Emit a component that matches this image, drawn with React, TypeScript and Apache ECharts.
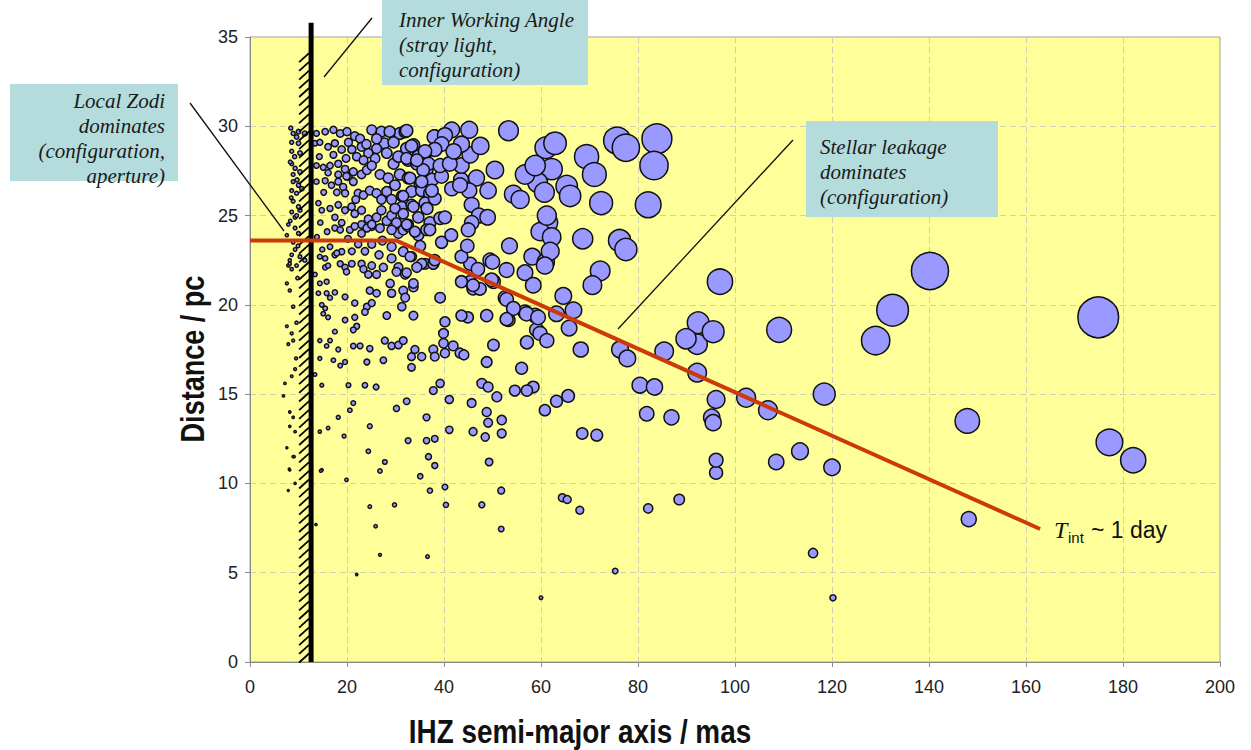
import React, { useEffect, useRef } from "react";
import * as echarts from "echarts";

// ---- data: [IHZ semi-major axis (mas), distance (pc)] ----
const outerStars: number[][] = [
  [174.9, 19.3], [140.2, 21.9], [132.5, 19.7], [129.0, 18.0], [182.1, 11.3], [177.2, 12.3],
  [147.9, 13.5], [148.2, 8.0], [118.4, 15.0], [120.0, 10.9], [113.4, 11.8], [108.5, 11.2],
  [109.1, 18.6], [96.9, 21.3], [116.1, 6.1], [120.2, 3.6], [106.8, 14.1], [102.3, 14.8],
  [96.1, 14.7], [95.2, 13.7], [95.5, 13.4], [96.1, 10.6], [96.1, 11.3], [92.2, 16.2],
  [92.4, 19.0], [92.2, 17.8], [89.9, 18.1], [95.5, 18.5], [85.4, 17.4], [80.4, 15.5],
  [83.4, 15.4], [81.8, 13.9], [86.9, 13.7], [76.3, 17.5], [77.8, 17.0], [68.2, 17.5],
  [64.6, 20.5], [66.7, 19.7], [65.8, 18.7], [61.2, 18.0], [63.2, 19.5], [72.2, 21.9],
  [70.6, 21.1], [60.8, 22.2], [65.6, 14.9], [63.2, 14.6], [60.8, 14.1], [68.5, 12.8],
  [71.5, 12.7], [64.4, 9.2], [65.4, 9.1], [68.0, 8.5], [82.1, 8.6], [88.5, 9.1],
  [75.3, 5.1], [60.0, 3.6],
];

const topRight: number[][] = [
  [53.3, 29.75], [61.0, 28.8], [62.9, 29.05], [69.4, 28.3], [71.0, 27.3], [75.7, 29.2],
  [77.5, 28.8], [83.9, 29.3], [83.3, 27.8], [82.1, 25.6], [72.4, 25.7], [68.6, 23.7],
  [65.3, 26.65], [66.0, 26.1], [62.2, 27.6], [59.3, 26.85], [56.7, 27.3], [58.8, 27.8],
  [54.3, 26.2], [55.7, 25.9], [60.7, 26.3], [61.5, 24.6], [59.8, 24.1], [62.2, 23.8],
  [61.2, 25.0], [53.5, 23.3], [58.2, 22.7], [61.0, 22.4], [56.7, 21.8], [58.4, 21.1],
  [76.2, 23.6], [77.5, 23.1], [52.9, 20.3], [54.3, 19.8], [52.9, 19.2], [57.0, 19.5],
  [59.4, 19.3], [59.8, 18.4], [57.1, 17.9], [61.9, 23.0],
];

const midCluster: number[][] = [
  [32.3, 29.75], [41.6, 29.8], [45.2, 29.8], [50.5, 27.55], [49.1, 26.4], [46.7, 27.1],
  [45.2, 26.4], [43.5, 27.0], [43.6, 27.8], [45.4, 28.4], [43.6, 29.0], [38.0, 29.4],
  [40.2, 29.5], [39.5, 29.0], [38.1, 28.7], [39.2, 27.8], [41.2, 27.9], [36.1, 28.6],
  [35.7, 27.55], [33.3, 28.9], [32.3, 28.2], [34.4, 28.1], [35.4, 26.9], [37.5, 26.4],
  [33.0, 27.1], [41.6, 26.5], [43.3, 26.7], [45.7, 25.6], [47.2, 25.0], [49.0, 24.9],
  [45.7, 24.6], [45.0, 24.2], [40.2, 24.9], [33.7, 25.5], [31.6, 26.1], [31.6, 25.1],
  [32.3, 24.5], [34.0, 24.1], [37.1, 24.2], [39.5, 23.5], [50.0, 22.4], [43.6, 22.7],
  [38.1, 22.5], [35.1, 23.3], [35.4, 22.3], [33.0, 22.7], [32.3, 21.8], [34.4, 22.1],
  [33.7, 21.2], [43.6, 21.3], [46.0, 21.1], [49.8, 21.4], [42.0, 28.6], [47.5, 28.9],
  [44.8, 23.3], [47.0, 22.0], [41.5, 23.9], [36.5, 25.4], [28.8, 29.7], [29.6, 29.1],
];

const innerCluster: number[][] = [
  [8.9, 29.6], [10.0, 29.7], [9.6, 29.4], [11.3, 29.6], [13.7, 29.6], [15.5, 29.7],
  [17.2, 29.8], [18.6, 29.6], [20.0, 29.7], [21.6, 29.45], [22.7, 29.3], [25.1, 29.8],
  [27.1, 29.7], [27.7, 29.05], [26.1, 29.3], [30.9, 29.6], [32.0, 29.7], [33.7, 28.95],
  [36.1, 28.5], [38.1, 29.4], [38.5, 28.85], [36.4, 27.55],
  [8.6, 29.1], [10.0, 29.05], [8.6, 28.6], [10.3, 28.5], [13.4, 29.05], [14.4, 29.1],
  [16.1, 28.85], [17.5, 29.05], [18.9, 28.7], [17.2, 28.4], [20.3, 29.1], [21.0, 28.7],
  [22.0, 28.3], [23.0, 28.85], [24.4, 28.5], [26.1, 28.75], [25.8, 28.2], [23.4, 28.1],
  [28.2, 28.5], [29.6, 27.9], [30.6, 28.3], [32.3, 28.75], [32.6, 28.1], [34.7, 28.3],
  [34.4, 27.9], [36.8, 27.9],
  [8.6, 27.9], [9.3, 27.65], [10.3, 27.45], [8.9, 27.3], [13.7, 27.8], [15.1, 27.7],
  [16.5, 27.8], [18.2, 27.9], [19.6, 27.6], [16.1, 27.4], [18.2, 27.3], [20.3, 27.2],
  [21.3, 27.45], [23.0, 27.3], [24.1, 27.55], [25.1, 27.8], [26.8, 27.3], [28.5, 27.1],
  [30.9, 27.3], [32.6, 27.1], [29.9, 26.7], [35.1, 26.8], [37.5, 27.0], [39.5, 27.2],
  [8.9, 26.9], [10.0, 26.7], [8.6, 26.4], [9.6, 26.25], [10.7, 26.5], [13.7, 26.9],
  [15.5, 26.95], [16.8, 26.7], [18.2, 26.9], [19.2, 26.6], [19.9, 27.2], [21.3, 26.9],
  [17.9, 26.3], [19.6, 26.25], [22.3, 26.25], [23.4, 26.15], [24.7, 26.4], [26.1, 26.25],
  [27.1, 25.9], [28.2, 26.35], [29.2, 25.9], [31.3, 26.1], [33.3, 26.35], [35.4, 26.4],
  [37.1, 26.25], [31.3, 25.5], [33.3, 25.6], [36.1, 25.7], [38.1, 25.95],
  [8.9, 25.8], [10.0, 25.5], [8.6, 25.2], [10.3, 25.3], [9.3, 24.9], [14.1, 25.7],
  [14.8, 25.3], [16.5, 25.4], [18.2, 25.6], [19.6, 25.3], [17.5, 24.9], [18.9, 24.6],
  [20.95, 25.5], [21.6, 25.1], [23.0, 25.3], [24.4, 24.8], [26.1, 24.9], [27.1, 25.3],
  [28.2, 24.7], [29.2, 25.0], [30.2, 24.6], [23.0, 24.5], [25.1, 24.4], [30.6, 24.0],
  [32.6, 24.5], [34.7, 24.9], [37.1, 24.6], [39.2, 24.85],
  [7.9, 24.5], [9.3, 24.3], [7.6, 23.9], [10.0, 24.0], [17.5, 24.3], [18.6, 24.2],
  [20.6, 24.2], [21.6, 24.4], [23.0, 24.0], [24.1, 24.3], [25.1, 24.5], [26.8, 24.3],
  [29.2, 24.2], [31.6, 24.2], [32.6, 24.4], [34.7, 23.9], [36.4, 24.2], [29.2, 23.25],
  [31.6, 22.98], [33.3, 22.7], [29.2, 22.6], [25.1, 23.4], [23.7, 23.0], [21.0, 23.0],
  [18.9, 22.98], [16.5, 23.25],
  [9.3, 23.1], [10.3, 22.7], [8.2, 22.3], [9.6, 22.2], [11.3, 22.5], [15.5, 22.6],
  [17.5, 22.8], [18.6, 22.3], [19.6, 22.1], [15.5, 22.1], [23.0, 22.3], [23.4, 22.0],
  [25.1, 22.2], [27.5, 22.1], [30.6, 22.1], [36.1, 22.3], [37.8, 22.3],
  [8.4, 29.9], [9.2, 28.3], [8.3, 28.0], [9.7, 27.0], [8.5, 26.0], [9.6, 25.0],
  [8.3, 24.7], [8.9, 23.5], [9.9, 23.3], [8.6, 22.8], [14.3, 28.3], [15.2, 26.3],
  [14.5, 24.6], [15.9, 24.1], [13.8, 23.8], [14.9, 23.1], [20.2, 23.7], [22.3, 23.4],
  [27.3, 23.6], [26.6, 22.8], [19.8, 28.2], [24.0, 29.0], [29.9, 25.4], [21.8, 25.9],
];

const lowerMid: number[][] = [
  [14.4, 22.7], [16.1, 22.2], [17.9, 22.9], [19.9, 21.85], [21.0, 22.3], [24.4, 21.7],
  [26.1, 21.7], [15.8, 21.3], [14.4, 21.2], [13.4, 21.7], [14.1, 20.65], [15.8, 20.65],
  [17.5, 20.7], [19.6, 20.45], [21.6, 20.1], [24.7, 20.8], [26.1, 20.65], [28.9, 21.2],
  [30.2, 21.85], [32.0, 21.7], [29.2, 20.65], [31.6, 20.8], [33.7, 21.0], [32.0, 20.4],
  [31.3, 19.9], [33.7, 19.4], [39.2, 20.4], [28.2, 19.4], [24.1, 19.9], [25.1, 20.1],
  [23.7, 19.6], [21.6, 19.3], [22.0, 18.8], [21.3, 18.6], [19.6, 19.15], [16.5, 20.4],
  [15.5, 19.8], [15.1, 19.5], [14.8, 20.0], [16.1, 19.3], [17.5, 18.5], [16.5, 18.0],
  [14.4, 18.0], [15.8, 17.7], [18.2, 17.5], [17.2, 16.9], [18.6, 16.6], [14.4, 17.0],
  [19.6, 16.8], [21.3, 17.7], [22.7, 17.7], [24.7, 17.55], [24.1, 16.8], [27.5, 16.9],
  [27.8, 18.0], [29.2, 17.7], [30.6, 17.75], [31.6, 18.0], [33.3, 17.1], [35.4, 17.1],
  [33.3, 16.5], [34.0, 17.5], [37.8, 17.5], [38.1, 17.1], [40.2, 17.3], [41.9, 17.7],
  [43.3, 17.3], [44.1, 17.2], [39.9, 17.85], [39.9, 18.4], [40.2, 19.05], [48.8, 16.8],
  [50.2, 17.75], [44.9, 19.3], [53.3, 19.15], [45.4, 22.3], [49.5, 22.5], [52.9, 21.95],
  [56.0, 16.45], [58.4, 15.4], [57.1, 15.2], [54.6, 15.2], [47.8, 15.6], [49.1, 15.4],
  [50.9, 14.85], [48.8, 14.0], [49.1, 13.4], [51.9, 13.55], [51.9, 12.8], [45.7, 14.5],
  [46.0, 12.9], [41.1, 14.7], [41.1, 13.0], [39.2, 15.6], [37.8, 15.2], [32.3, 14.6],
  [30.2, 14.2], [36.4, 13.7], [32.6, 12.4], [36.4, 12.4], [38.1, 12.5], [36.8, 11.5],
  [38.1, 11.0], [35.1, 10.4], [40.2, 9.8], [37.1, 9.6], [49.3, 11.2], [51.8, 9.6],
  [26.8, 10.7], [27.8, 11.2], [24.4, 11.8], [24.7, 13.2], [21.3, 14.5], [20.6, 14.1],
  [20.3, 15.5], [23.7, 15.5], [26.0, 15.4], [16.1, 13.1], [19.4, 12.65], [18.2, 13.7],
  [14.8, 15.5], [14.4, 12.9], [14.8, 10.75], [19.9, 10.2], [13.4, 16.1], [48.5, 12.6],
  [45.4, 21.3], [46.0, 20.9], [47.4, 20.9], [50.2, 21.3], [52.6, 20.4], [56.7, 19.6],
  [58.8, 19.4], [59.1, 18.6], [43.6, 19.4], [48.8, 19.4], [29.8, 8.8], [24.7, 8.7],
  [40.4, 8.8], [47.8, 8.8], [51.8, 7.45], [25.9, 7.6], [26.8, 6.0], [36.6, 5.9],
  [22.0, 4.9], [14.6, 10.7], [13.6, 7.7],
];

const leftDots: number[][] = [
  [8.2, 22.5], [7.9, 22.2], [8.6, 22.0], [7.6, 21.2], [8.2, 20.8], [8.9, 19.9],
  [7.6, 18.8], [8.6, 18.4], [7.9, 17.8], [8.9, 18.0], [7.2, 15.6], [6.9, 14.9],
  [8.6, 16.0], [9.3, 16.4], [8.2, 14.0], [8.9, 13.7], [8.2, 13.2], [9.3, 12.9],
  [7.6, 12.0], [8.9, 11.5], [8.2, 10.75], [9.3, 10.0], [7.9, 9.6], [8.1, 10.8],
  [9.1, 11.5], [9.6, 19.0], [9.8, 21.5], [9.5, 17.0],
];

// T_int ~ 1 day limit line
const limitLine: number[][] = [[0, 23.6], [30.2, 23.6], [162.9, 7.45]];

// Inner working angle (mas)
const IWA = 12.6;
const IWA_TOP = 35.8;
const HATCH_TOP = 34.1;

// annotation boxes
const annotations = [
  { x: 382, y: 0, w: 206, h: 85, tx: 399, ty: 7, align: "left", text: "Inner Working Angle\n(stray light,\nconfiguration)" },
  { x: 10, y: 84, w: 168, h: 97, tx: 165, ty: 88, align: "right", text: "Local Zodi\ndominates\n(configuration,\naperture)" },
  { x: 806, y: 121, w: 192, h: 96, tx: 820, ty: 134, align: "left", text: "Stellar leakage\ndominates\n(configuration)" },
];
const leaders = [
  [324, 77, 372, 18],
  [190, 103, 284, 231],
  [618, 329, 793, 140],
];

export default function App() {
  const ref = useRef<HTMLDivElement>(null);
  useEffect(() => {
    if (!ref.current) return;
    const chart = echarts.init(ref.current, undefined, { renderer: "svg" });
    const allPoints = [...leftDots, ...innerCluster, ...lowerMid, ...midCluster, ...topRight, ...outerStars];
    const narrow = "'Liberation Sans Narrow', 'Arial Narrow', 'Liberation Sans', Arial, sans-serif";
    const serif = "'Liberation Serif', 'Times New Roman', serif";

    const graphic: any[] = [];
    annotations.forEach((a) => {
      graphic.push({
        type: "rect", z: 100, shape: { x: a.x, y: a.y, width: a.w, height: a.h },
        style: { fill: "#b5dcdd" },
      });
      graphic.push({
        type: "text", z: 101, x: a.tx, y: a.ty,
        style: {
          text: a.text, font: `italic 21px ${serif}`, fill: "#1a1a1a",
          align: a.align, verticalAlign: "top", lineHeight: 25,
        },
      });
    });
    leaders.forEach((l) => {
      graphic.push({
        type: "line", z: 101, shape: { x1: l[0], y1: l[1], x2: l[2], y2: l[3] },
        style: { stroke: "#111", lineWidth: 1.3 },
      });
    });
    graphic.push(
      { type: "text", z: 101, x: 1054, y: 530, style: { text: "T", font: `italic 24px ${serif}`, fill: "#111", verticalAlign: "middle" } },
      { type: "text", z: 101, x: 1068, y: 537, style: { text: "int", font: "15px 'Liberation Sans', Arial, sans-serif", fill: "#111", verticalAlign: "middle" } },
      { type: "text", z: 101, x: 1091, y: 530, style: { text: "~ 1 day", font: "23px 'Liberation Sans', Arial, sans-serif", fill: "#111", verticalAlign: "middle" } },
      {
        type: "text", z: 101, x: 580, y: 732, scaleX: 0.82,
        style: { text: "IHZ semi-major axis / mas", font: "bold 34px 'Liberation Sans', Arial, sans-serif", fill: "#111", align: "center", verticalAlign: "middle" },
      },
      {
        type: "text", z: 101, x: 193, y: 359, rotation: Math.PI / 2, scaleX: 0.82,
        style: { text: "Distance / pc", font: "bold 33px 'Liberation Sans', Arial, sans-serif", fill: "#111", align: "center", verticalAlign: "middle" },
      }
    );

    chart.setOption({
      animation: false,
      grid: {
        left: 250, right: 31, top: 37, bottom: 88, show: true,
        backgroundColor: "#ffff99", borderColor: "#a0a0a0", borderWidth: 1,
      },
      xAxis: {
        type: "value", min: 0, max: 200, interval: 20,
        axisLine: { lineStyle: { color: "#8a8a8a" } },
        axisTick: { show: true, length: 5, lineStyle: { color: "#8a8a8a" } },
        axisLabel: { fontFamily: narrow, fontSize: 18, color: "#222", margin: 16 },
        splitLine: { show: true, lineStyle: { color: "#cfcfb4", type: [6, 4], width: 1 } },
      },
      yAxis: {
        type: "value", min: 0, max: 35, interval: 5,
        axisLine: { show: true, lineStyle: { color: "#8a8a8a" } },
        axisTick: { show: true, length: 5, lineStyle: { color: "#8a8a8a" } },
        axisLabel: { fontFamily: narrow, fontSize: 18, color: "#222", margin: 12 },
        splitLine: { show: true, lineStyle: { color: "#cfcfb4", type: [6, 4], width: 1 } },
      },
      graphic,
      series: [
        {
          type: "scatter", z: 2, data: allPoints, silent: true,
          symbol: "circle",
          symbolSize: (v: number[]) => Math.max(1.6, (v[0] * v[1]) / 85 + 1),
          itemStyle: { color: "#9999ff", borderColor: "#111", borderWidth: 1.5, opacity: 1 },
        },
        {
          type: "custom", z: 5, silent: true, clip: false,
          data: [[IWA, 0]],
          renderItem: (_p: any, api: any) => {
            const base = api.coord([IWA, 0]);
            const top = api.coord([IWA, IWA_TOP]);
            const hTop = api.coord([IWA, HATCH_TOP]);
            const children: any[] = [];
            for (let y = base[1] - 4; y > hTop[1]; y -= 8.7) {
              children.push({
                type: "line",
                shape: { x1: base[0] - 12, y1: y + 4.5, x2: base[0] - 2, y2: y - 4.5 },
                style: { stroke: "#000", lineWidth: 1.8 },
              });
            }
            children.push({
              type: "line",
              shape: { x1: base[0], y1: base[1], x2: top[0], y2: top[1] },
              style: { stroke: "#000", lineWidth: 5 },
            });
            return { type: "group", children };
          },
        },
        {
          type: "line", z: 6, data: limitLine, symbol: "none", silent: true,
          lineStyle: { color: "#cc3a0c", width: 4 },
        },
      ],
    });
    return () => chart.dispose();
  }, []);
  return <div ref={ref} style={{ position: "absolute", left: 0, top: 0, width: 1251, height: 750 }} />;
}
